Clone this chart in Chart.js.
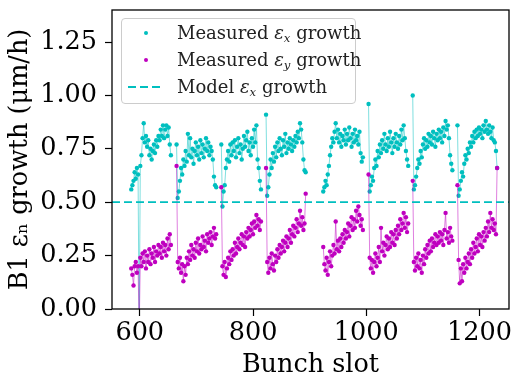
<!DOCTYPE html>
<html>
<head>
<meta charset="utf-8">
<script src="https://cdn.jsdelivr.net/npm/chart.js@4.4.1/dist/chart.umd.min.js"></script>
<style>
  html, body { margin:0; padding:0; background:#fff; }
  #wrap { position:relative; width:513px; height:378px; }
  #legend {
    position:absolute; left:121px; top:18px; width:235px; height:86px;
    border:1px solid #cccccc; border-radius:4px; background:rgba(255,255,255,0.85);
    font-family:"DejaVu Serif", serif; font-size:18px; color:#222; box-sizing:border-box;
  }
  .row { position:absolute; left:0; height:26px; line-height:26px; width:100%; }
  .row .lbl { position:absolute; left:55px; top:0; white-space:nowrap; }
  .row .dot { position:absolute; left:22px; top:11px; width:4px; height:4px; border-radius:2px; }
  .row svg { position:absolute; left:6px; top:11px; }
  sub { font-size:65%; vertical-align:-3px; line-height:0; }
</style>
</head>
<body>
<div id="wrap">
  <canvas id="growthChart" width="513" height="378"></canvas>
  <div id="legend">
    <div class="row" style="top:1px"><span class="dot" style="background:#00bfbf"></span><span class="lbl">Measured <i>ε</i><sub><i>x</i></sub> growth</span></div>
    <div class="row" style="top:28px"><span class="dot" style="background:#bf00bf"></span><span class="lbl">Measured <i>ε</i><sub><i>y</i></sub> growth</span></div>
    <div class="row" style="top:55px"><svg width="36" height="4"><line x1="0" y1="2" x2="36" y2="2" stroke="#00bfbf" stroke-width="1.8" stroke-dasharray="8,4"/></svg><span class="lbl">Model <i>ε</i><sub><i>x</i></sub> growth</span></div>
  </div>
</div>
<script>
// B1 emittance growth per bunch slot, 8 trains, every second slot
const trainStarts = [585, 665, 744, 823, 924, 1004, 1082, 1161];
const slotStep    = 2;
const xRange      = [551, 1252];
const xTicks      = [600, 800, 1000, 1200];
const modelGrowth = 0.5;

// horizontal emittance growth (um/h)
const epsX1 = [0.56,0.58,0.60,0.64,0.61,0.66,0.63,-0.10,0.67,0.72,0.80,0.87,0.78,0.81,0.76,0.79,0.72,0.75,0.70,0.74,0.77,0.73,0.79,0.76,0.81,0.79,0.84,0.81,0.86,0.80,0.84,0.86,0.81,0.85,0.77,0.72];
const epsX2 = [0.77,0.52,0.55,0.60,0.66,0.63,0.70,0.67,0.74,0.69,0.82,0.72,0.80,0.71,0.75,0.68,0.74,0.78,0.72,0.76,0.70,0.79,0.73,0.77,0.71,0.75,0.80,0.74,0.78,0.72,0.76,0.74,0.70,0.62,0.58,0.57];
const epsX3 = [0.77,0.48,0.55,0.58,0.66,0.70,0.74,0.69,0.77,0.72,0.78,0.74,0.79,0.71,0.76,0.80,0.73,0.77,0.70,0.75,0.81,0.76,0.79,0.83,0.74,0.78,0.72,0.80,0.76,0.84,0.78,0.86,0.70,0.66,0.60,0.56];
const epsX4 = [0.91,0.53,0.57,0.63,0.70,0.66,0.73,0.69,0.76,0.71,0.78,0.74,0.80,0.75,0.72,0.79,0.76,0.82,0.73,0.78,0.75,0.80,0.77,0.74,0.79,0.76,0.81,0.78,0.83,0.80,0.87,0.84,0.78,0.70,0.65,0.64];
const epsX5 = [0.55,0.57,0.60,0.58,0.63,0.67,0.72,0.76,0.80,0.78,0.83,0.87,0.80,0.84,0.78,0.82,0.76,0.81,0.79,0.84,0.77,0.82,0.79,0.85,0.80,0.76,0.82,0.78,0.84,0.79,0.81,0.77,0.83,0.73,0.69,0.71];
const epsX6 = [0.96,0.55,0.58,0.62,0.60,0.66,0.70,0.67,0.74,0.71,0.77,0.73,0.79,0.75,0.82,0.77,0.74,0.80,0.76,0.83,0.78,0.73,0.80,0.76,0.82,0.78,0.75,0.81,0.77,0.84,0.79,0.86,0.80,0.74,0.70,0.67];
const epsX7 = [1.00,0.56,0.58,0.62,0.66,0.70,0.68,0.74,0.71,0.77,0.80,0.75,0.79,0.76,0.82,0.78,0.81,0.77,0.83,0.80,0.76,0.82,0.79,0.84,0.80,0.83,0.78,0.85,0.81,0.88,0.84,0.86,0.80,0.72,0.68,0.65];
const epsX8 = [0.86,0.53,0.56,0.60,0.64,0.62,0.68,0.72,0.70,0.75,0.73,0.78,0.76,0.81,0.78,0.83,0.80,0.84,0.81,0.85,0.82,0.84,0.80,0.86,0.83,0.88,0.84,0.82,0.86,0.83,0.80,0.85,0.79,0.78,0.74,0.66];

// vertical emittance growth (um/h)
const epsY1 = [0.19,0.16,0.11,0.20,0.22,0.17,0.20,-0.10,0.24,0.20,0.26,0.22,0.27,0.19,0.25,0.22,0.28,0.21,0.26,0.24,0.29,0.22,0.27,0.25,0.30,0.26,0.29,0.24,0.31,0.27,0.30,0.25,0.33,0.28,0.35,0.30];
const epsY2 = [0.67,0.22,0.19,0.24,0.17,0.21,0.13,0.20,0.16,0.24,0.21,0.27,0.23,0.30,0.25,0.28,0.24,0.31,0.27,0.33,0.26,0.30,0.28,0.34,0.29,0.32,0.27,0.35,0.31,0.33,0.36,0.30,0.34,0.38,0.33,0.35];
const epsY3 = [0.57,0.20,0.16,0.22,0.15,0.19,0.24,0.21,0.27,0.23,0.28,0.25,0.31,0.26,0.29,0.33,0.28,0.31,0.35,0.30,0.34,0.29,0.36,0.33,0.38,0.34,0.37,0.40,0.35,0.41,0.38,0.44,0.39,0.42,0.37,0.41];
const epsY4 = [0.66,0.22,0.17,0.24,0.19,0.26,0.21,0.18,0.25,0.22,0.28,0.24,0.30,0.26,0.29,0.32,0.27,0.31,0.34,0.29,0.33,0.37,0.31,0.35,0.39,0.34,0.38,0.42,0.36,0.40,0.46,0.39,0.43,0.37,0.40,0.54];
const epsY5 = [0.29,0.21,0.18,0.24,0.16,0.22,0.27,0.20,0.25,0.30,0.26,0.41,0.28,0.32,0.27,0.33,0.29,0.35,0.31,0.37,0.33,0.36,0.40,0.34,0.39,0.43,0.37,0.42,0.38,0.46,0.41,0.48,0.44,0.39,0.42,0.37];
const epsY6 = [0.63,0.24,0.19,0.23,0.17,0.22,0.26,0.20,0.24,0.29,0.22,0.38,0.27,0.31,0.25,0.30,0.34,0.28,0.33,0.29,0.36,0.31,0.35,0.30,0.37,0.33,0.39,0.35,0.42,0.37,0.40,0.45,0.38,0.43,0.36,0.40];
const epsY7 = [0.60,0.22,0.18,0.24,0.20,0.26,0.19,0.23,0.17,0.25,0.21,0.28,0.24,0.30,0.26,0.32,0.27,0.33,0.29,0.31,0.35,0.30,0.34,0.31,0.36,0.32,0.35,0.30,0.37,0.45,0.33,0.36,0.31,0.38,0.34,0.32];
const epsY8 = [0.58,0.23,0.12,0.19,0.13,0.21,0.17,0.24,0.19,0.22,0.26,0.21,0.28,0.24,0.31,0.26,0.29,0.33,0.27,0.35,0.30,0.34,0.29,0.36,0.32,0.38,0.34,0.41,0.36,0.45,0.38,0.42,0.37,0.40,0.35,0.66];

const epsXTrains = [epsX1, epsX2, epsX3, epsX4, epsX5, epsX6, epsX7, epsX8];
const epsYTrains = [epsY1, epsY2, epsY3, epsY4, epsY5, epsY6, epsY7, epsY8];

// one line per train: a null point breaks the line between trains
function trainPoints(trains) {
    const pts = [];
    trains.forEach((vals, k) => {
        vals.forEach((v, i) => pts.push({ x: trainStarts[k] + slotStep * i, y: v }));
        pts.push({ x: trainStarts[k] + slotStep * vals.length, y: null });
    });
    return pts;
}

const SERIF = "'DejaVu Serif', serif";

// frame round the plot area (matplotlib style box)
const framePlugin = {
    id: "frame",
    afterDraw(chart) {
        const { ctx, chartArea: a } = chart;
        ctx.save();
        ctx.strokeStyle = "#000";
        ctx.lineWidth = 1.3;
        ctx.strokeRect(a.left, a.top, a.right - a.left, a.bottom - a.top);
        ctx.restore();
    }
};

new Chart(document.getElementById("growthChart"), {
    type: "line",
    data: {
        datasets: [
            { label: "Model growth", data: xRange.map(x => ({ x, y: modelGrowth })),
              borderColor: "#00bfbf", borderWidth: 1.7, borderDash: [8, 4],
              pointRadius: 0, order: 0 },
            { label: "Measured y growth", data: trainPoints(epsYTrains),
              borderColor: "rgba(191,0,191,0.5)", borderWidth: 1,
              pointRadius: 2.2, pointBorderWidth: 0, pointBackgroundColor: "#bf00bf",
              spanGaps: false, tension: 0, order: 1 },
            { label: "Measured x growth", data: trainPoints(epsXTrains),
              borderColor: "rgba(0,191,191,0.5)", borderWidth: 1,
              pointRadius: 2.2, pointBorderWidth: 0, pointBackgroundColor: "#00bfbf",
              spanGaps: false, tension: 0, order: 2 },
        ],
    },
    options: {
        responsive: false, animation: false, devicePixelRatio: 1,
        layout: { padding: { top: 10, right: 1, left: 0, bottom: 0 } },
        plugins: { legend: { display: false }, tooltip: { enabled: false } },
        scales: {
            x: {
                type: "linear", min: xRange[0], max: xRange[1],
                afterBuildTicks: s => { s.ticks = xTicks.map(v => ({ value: v })); },
                afterFit: s => { s.height = 69; s.paddingLeft = 0; s.paddingRight = 0; },
                border: { display: false },
                grid: { drawOnChartArea: false, drawTicks: true, tickLength: 7, color: "#000", tickWidth: 1.2 },
                ticks: { color: "#000", font: { family: SERIF, size: 25.5 }, padding: 2, maxRotation: 0,
                         callback: v => String(v) },
                title: { display: true, text: "Bunch slot", color: "#000",
                         font: { family: SERIF, size: 25.5, lineHeight: 1.0 }, padding: { top: 0, bottom: 0 } },
            },
            y: {
                min: 0, max: 1.4,
                afterFit: s => { s.width = 112; s.paddingTop = 0; s.paddingBottom = 0; },
                border: { display: false },
                grid: { drawOnChartArea: false, drawTicks: true, tickLength: 7, color: "#000", tickWidth: 1.2 },
                ticks: { stepSize: 0.25, includeBounds: false, color: "#000",
                         font: { family: SERIF, size: 25.5 }, padding: 8,
                         callback: v => v.toFixed(2) },
                title: { display: true, text: "B1 εₙ growth (μm/h)", color: "#000",
                         font: { family: SERIF, size: 25.5, lineHeight: 1.0 }, padding: { top: 8, bottom: 0 } },
            },
        },
    },
    plugins: [framePlugin],
});
</script>
</body>
</html>
